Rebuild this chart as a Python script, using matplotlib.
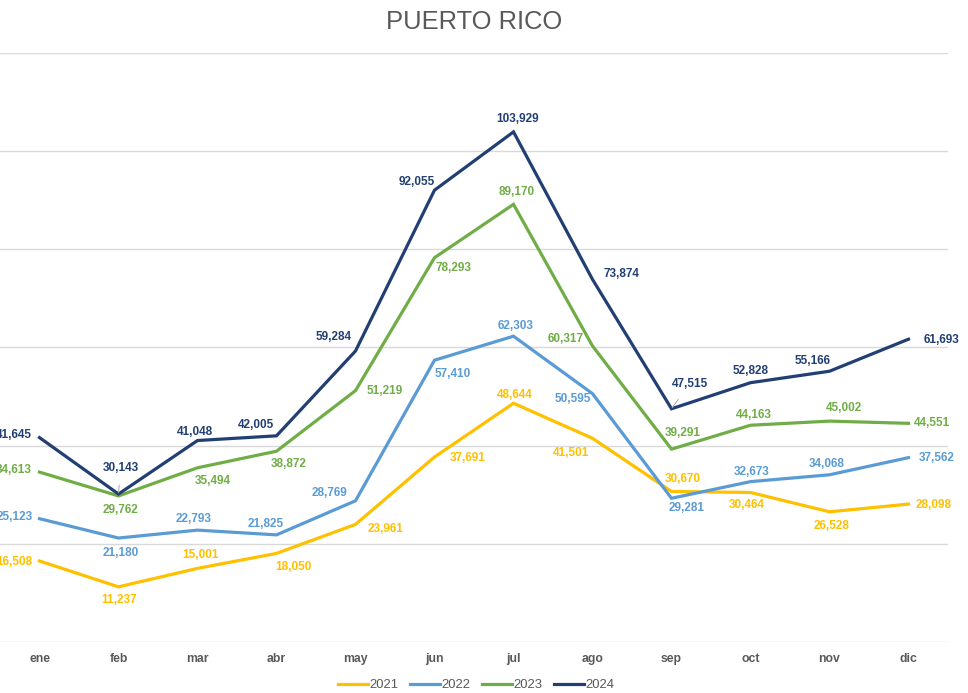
from matplotlib import pyplot as plt

# monthly values
months = ["ene", "feb", "mar", "abr", "may", "jun",
          "jul", "ago", "sep", "oct", "nov", "dic"]
years = ["2021", "2022", "2023", "2024"]

v2021 = [16508, 11237, 15001, 18050, 23961, 37691,
         48644, 41501, 30670, 30464, 26528, 28098]
v2022 = [25123, 21180, 22793, 21825, 28769, 57410,
         62303, 50595, 29281, 32673, 34068, 37562]
v2023 = [34613, 29762, 35494, 38872, 51219, 78293,
         89170, 60317, 39291, 44163, 45002, 44551]
v2024 = [41645, 30143, 41048, 42005, 59284, 92055,
         103929, 73874, 47515, 52828, 55166, 61693]

colors = {"2021": "#FFC000", "2022": "#5B9BD5",
          "2023": "#70AD47", "2024": "#223F73"}

# label centre offsets from the point, in pixels (x right, y down)
label_offsets = {
    "2021": [(-25, 1), (1, 13), (3, -13), (17, 14), (30, 5), (33, 1),
             (1, -8), (-21, 15), (11, -12), (-4, 13), (2, 14), (25, 1)],
    "2022": [(-25, -2), (2, 15), (-4, -11), (-11, -11), (-26, -8), (18, 14),
             (2, -10), (-20, 5), (15, 10), (1, -10), (-3, -11), (28, 0)],
    "2023": [(-26, -2), (2, 14), (15, 13), (12, 13), (29, 0), (19, 10),
             (3, -12), (-27, -7), (11, -16), (3, -10), (14, -13), (24, 0)],
    "2024": [(-26, -3), (2, -26), (-3, -9), (-21, -11), (-22, -14), (-18, -8),
             (4, -13), (29, -5), (18, -25), (0, -12), (-17, -10), (33, 1)],
}
# points whose label is joined by a leader line
leaders = {("2024", 1), ("2024", 8), ("2023", 8)}

series = {"2021": v2021, "2022": v2022, "2023": v2023, "2024": v2024}

W, H = 968, 693
fig = plt.figure(figsize=(W / 100, H / 100), dpi=100)
ax = fig.add_axes([0, (H - 642) / H, 948 / W, (642 - 53) / H])

x = list(range(len(months)))
for yr in years:
    ax.plot(x, series[yr], color=colors[yr], lw=2.3, label=yr,
            solid_joinstyle="miter", zorder=3)
    for i, val in enumerate(series[yr]):
        dx, dy = label_offsets[yr][i]
        arrow = None
        if (yr, i) in leaders:
            arrow = dict(arrowstyle="-", color="#A6A6A6", lw=0.7,
                         shrinkA=6, shrinkB=1)
        ax.annotate(f"{val:,}", (i, val), xytext=(dx, -dy),
                    textcoords="offset pixels", ha="center", va="center",
                    fontsize=8.5, fontweight="bold", color=colors[yr],
                    family="Liberation Sans", arrowprops=arrow,
                    annotation_clip=False, zorder=4)

ax.set_xlim(-0.5, 11.5)
ax.set_ylim(0, 120000)
ax.set_yticks(range(0, 120001, 20000))
ax.set_yticklabels([])
ax.grid(axis="y", color="#D9D9D9", lw=1)
ax.set_axisbelow(True)
ax.set_xticks(x)
ax.set_xticklabels(months, fontsize=8.8, fontweight="bold", color="#595959",
                   family="Liberation Sans")
ax.tick_params(length=0, pad=8)
for s in ax.spines.values():
    s.set_visible(False)

fig.text(474 / W, 1 - 22 / H, "PUERTO RICO", ha="center", va="center",
         fontsize=18.4, color="#595959", family="Liberation Sans")

fig.legend(loc="center", bbox_to_anchor=(476 / W, 1 - 685 / H), ncol=4,
           frameon=False, handlelength=2.3, handletextpad=0.1,
           columnspacing=0.9,
           prop={"family": "Liberation Sans", "size": 9.4},
           labelcolor="#595959")

fig.savefig("out.png", dpi=100)
